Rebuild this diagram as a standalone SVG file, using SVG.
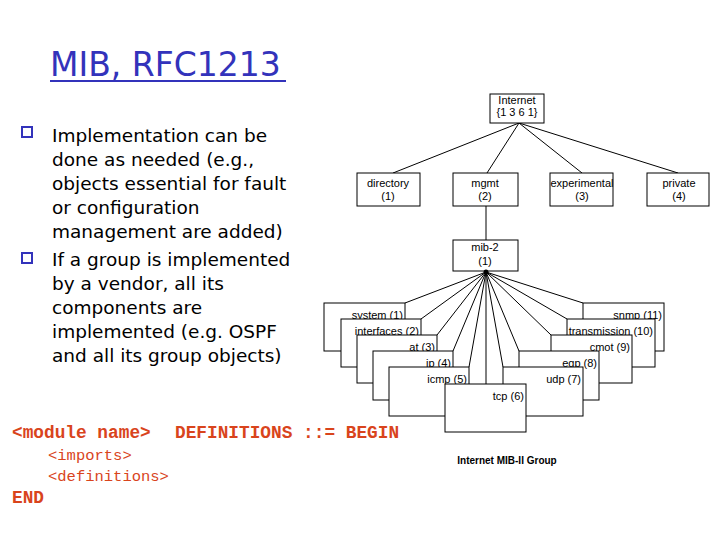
<svg xmlns="http://www.w3.org/2000/svg" width="720" height="540" viewBox="0 0 720 540">
<style>
.b{fill:#fff;stroke:#000;stroke-width:1}
.t{font-family:"Liberation Sans",Arial,sans-serif;font-size:11px;fill:#000}
.c{stroke:#000;stroke-width:1;fill:none}
.bt{font-family:"DejaVu Sans",sans-serif;font-size:18.5px;fill:#000}
.code{font-family:"Liberation Mono",monospace;fill:#d9441c}
</style>
<rect width="720" height="540" fill="#fff"/>
<text x="50" y="76" font-family="DejaVu Sans,sans-serif" font-size="33" fill="#3333bb">MIB, RFC1213</text>
<line x1="50" y1="81" x2="286" y2="81" stroke="#3333bb" stroke-width="2"/>
<g id="bullets">
<rect x="22" y="127" width="10" height="10" fill="#fff" stroke="#3333bb" stroke-width="2"/>
<rect x="22" y="253" width="10" height="10" fill="#fff" stroke="#3333bb" stroke-width="2"/>
<text class="bt" x="52" y="142">Implementation can be</text>
<text class="bt" x="52" y="166">done as needed (e.g.,</text>
<text class="bt" x="52" y="190">objects essential for fault</text>
<text class="bt" x="52" y="214">or configuration</text>
<text class="bt" x="52" y="238">management are added)</text>
<text class="bt" x="52" y="266">If a group is implemented</text>
<text class="bt" x="52" y="290">by a vendor, all its</text>
<text class="bt" x="52" y="314">components are</text>
<text class="bt" x="52" y="338">implemented (e.g. OSPF</text>
<text class="bt" x="52" y="362">and all its group objects)</text>
</g>
<g id="code" class="code">
<text x="12" y="438" font-size="17.8" font-weight="bold">&lt;module name&gt;</text>
<text x="175" y="438" font-size="17.8" font-weight="bold">DEFINITIONS ::= BEGIN</text>
<text x="48" y="460" font-size="15.5">&lt;imports&gt;</text>
<text x="48" y="481" font-size="15.5">&lt;definitions&gt;</text>
<text x="12" y="503" font-size="17.8" font-weight="bold">END</text>
</g>
<g id="connectors" class="c">
<path d="M519 123L393 173M519 123L487 173M519 123L582 173M519 123L678 173M486 206V240"/>
<path d="M486 272L405 303M486 272L421 319M486 272L437 335M486 272L453 351M486 272L469 367M486 272V384M486 272L503 367M486 272L519 351M486 272L551 335M486 272L567 319M486 272L583 303"/>
</g>
<g id="internet"><rect class="b" x="490" y="94" width="54" height="29"/><text class="t" x="517" y="104" text-anchor="middle" font-size="10">Internet</text><text class="t" x="517" y="116" text-anchor="middle" font-size="10">{1 3 6 1}</text></g>
<g id="directory"><rect class="b" x="357" y="173" width="63" height="33"/><text class="t" x="388" y="187" text-anchor="middle" font-size="10">directory</text><text class="t" x="388" y="200" text-anchor="middle" font-size="10">(1)</text></g>
<g id="mgmt"><rect class="b" x="453" y="173" width="65" height="33"/><text class="t" x="485" y="187" text-anchor="middle" font-size="10">mgmt</text><text class="t" x="485" y="200" text-anchor="middle" font-size="10">(2)</text></g>
<g id="experimental"><rect class="b" x="550" y="173" width="63" height="33"/><text class="t" x="582" y="187" text-anchor="middle" font-size="10">experimental</text><text class="t" x="582" y="200" text-anchor="middle" font-size="10">(3)</text></g>
<g id="private"><rect class="b" x="647" y="173" width="62" height="33"/><text class="t" x="679" y="187" text-anchor="middle" font-size="10">private</text><text class="t" x="679" y="200" text-anchor="middle" font-size="10">(4)</text></g>
<g id="mib2"><rect class="b" x="453" y="240" width="65" height="31"/><text class="t" x="485" y="251" text-anchor="middle" font-size="10">mib-2</text><text class="t" x="485" y="265" text-anchor="middle" font-size="10">(1)</text></g>
<circle cx="486" cy="272" r="2.5"/>
<g id="system"><rect class="b" x="324" y="303" width="81" height="48"/><text class="t" x="403" y="319" text-anchor="end">system (1)</text></g>
<g id="interfaces"><rect class="b" x="341" y="319" width="80" height="48"/><text class="t" x="419" y="335" text-anchor="end">interfaces (2)</text></g>
<g id="at"><rect class="b" x="357" y="335" width="80" height="48"/><text class="t" x="435" y="351" text-anchor="end">at (3)</text></g>
<g id="ip"><rect class="b" x="373" y="351" width="80" height="49"/><text class="t" x="451" y="367" text-anchor="end">ip (4)</text></g>
<g id="icmp"><rect class="b" x="389" y="367" width="80" height="49"/><text class="t" x="467" y="383" text-anchor="end">icmp (5)</text></g>
<g id="snmp"><rect class="b" x="583" y="303" width="81" height="48"/><text class="t" x="662" y="319" text-anchor="end">snmp (11)</text></g>
<g id="transmission"><rect class="b" x="567" y="319" width="88" height="48"/><text class="t" x="653" y="335" text-anchor="end">transmission (10)</text></g>
<g id="cmot"><rect class="b" x="551" y="335" width="81" height="48"/><text class="t" x="630" y="351" text-anchor="end">cmot (9)</text></g>
<g id="egp"><rect class="b" x="519" y="351" width="80" height="49"/><text class="t" x="597" y="367" text-anchor="end">egp (8)</text></g>
<g id="udp"><rect class="b" x="503" y="367" width="80" height="49"/><text class="t" x="581" y="383" text-anchor="end">udp (7)</text></g>
<g id="tcp"><rect class="b" x="445" y="384" width="81" height="48"/><text class="t" x="524" y="400" text-anchor="end">tcp (6)</text></g>
<text x="507" y="464" text-anchor="middle" font-family="Liberation Sans,Arial,sans-serif" font-size="10" font-weight="bold">Internet MIB-II Group</text>
</svg>
